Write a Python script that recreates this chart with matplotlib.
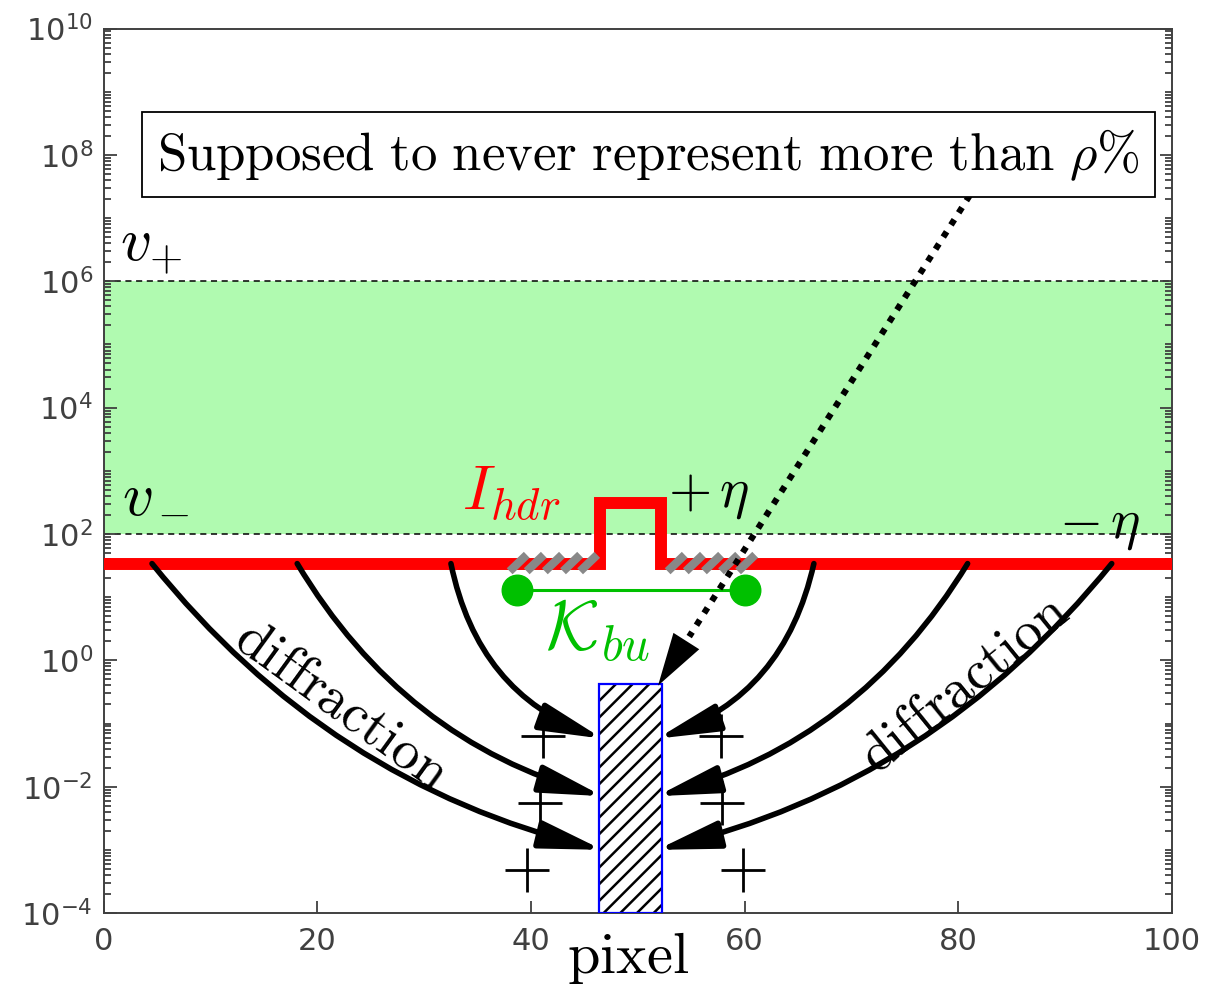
import numpy as np
import matplotlib
matplotlib.use("Agg")
import matplotlib.pyplot as plt
from matplotlib.patches import Rectangle, FancyArrowPatch
from matplotlib.ticker import LogLocator, NullFormatter

plt.rcParams['mathtext.fontset'] = 'cm'
plt.rcParams['hatch.linewidth'] = 1.8
plt.rcParams['hatch.color'] = 'black'

# ---- values ----
# thresholds
v_minus = 1e2
v_plus = 1e6

# I_hdr profile (red step)
ihdr_x = [0, 46.5, 46.5, 52.2, 52.2, 100]
ihdr_y = [34, 34, 310, 310, 34, 34]

# K_bu support (green segment)
kbu_x = [38.7, 60.0]
kbu_y = [13.2, 13.2]

# hatched eta-blocks on the red line (centres)
eta_left_x = [38.8, 40.4, 42.1, 43.8, 45.4]
eta_right_x = [53.6, 55.3, 57.0, 58.6, 60.2]

# target pixel bar
pixel_x0, pixel_x1 = 46.4, 52.3
pixel_top = 0.42

# diffraction arrows: start x on the red line, end y on the bar, curvature
arrow_start_left = [4.5, 18.1, 32.5]
arrow_start_right = [94.4, 80.9, 66.5]
arrow_end_y = [10 ** -3.0, 10 ** -2.15, 10 ** -1.24]
arrow_rad = [0.17, 0.2, 0.28]

# "+" signs beside the bar
plus_left_x = [41.1, 40.8, 39.6]
plus_right_x = [57.8, 57.9, 59.9]
plus_y = [10 ** -1.20, 10 ** -2.26, 10 ** -3.32]

# dotted pointer from the box to the bar
ptr_start = (81.1, 10 ** 7.36)
ptr_end = (51.9, 10 ** -0.40)

xticks = [0, 20, 40, 60, 80, 100]
yticks = [1e-4, 1e-2, 1e0, 1e2, 1e4, 1e6, 1e8, 1e10]

fig = plt.figure(figsize=(12.09, 9.86), dpi=100)
ax = fig.add_axes([0.086, 0.074, 0.883, 0.897])
ax.set_yscale('log')
ax.set_xlim(0, 100)
ax.set_ylim(1e-4, 1e10)

# green band between v- and v+
ax.axhspan(v_minus, v_plus, color='#b0fab0', lw=0, zorder=0)
for yv in (v_minus, v_plus):
    ax.axhline(yv, color='k', lw=1.1, ls=(0, (4, 3)), zorder=1)

# red I_hdr step
ax.plot(ihdr_x, ihdr_y, color='#ff0000', lw=8.6, solid_joinstyle='miter', zorder=3)

# gray slanted blocks
blk_dx = 0.8
blk_lo, blk_hi = 10 ** 1.41, 10 ** 1.67
for xc in eta_left_x + eta_right_x:
    ax.plot([xc - blk_dx, xc + blk_dx], [blk_lo, blk_hi], color='#888888',
            lw=6, solid_capstyle='butt', zorder=4)

# K_bu
ax.plot(kbu_x, kbu_y, color='#00c000', lw=2.2, zorder=4)
ax.plot(kbu_x, kbu_y, 'o', color='#00c000', ms=22, zorder=5)

# pixel bar: black hatch, blue outline
ax.add_patch(Rectangle((pixel_x0, 1e-4), pixel_x1 - pixel_x0, pixel_top - 1e-4,
                       facecolor='white', edgecolor='black', hatch='//', lw=0, zorder=4))
ax.add_patch(Rectangle((pixel_x0, 1e-4), pixel_x1 - pixel_x0, pixel_top - 1e-4,
                       facecolor='none', edgecolor='blue', lw=1.6, zorder=5))

# curved diffraction arrows
astyle = '-|>,head_length=1.9,head_width=0.42'
for xs, ye, rad in zip(arrow_start_left, arrow_end_y, arrow_rad):
    ax.add_patch(FancyArrowPatch((xs, ihdr_y[0]), (pixel_x0 + 0.3, ye),
                                 connectionstyle=f'arc3,rad={rad}', arrowstyle=astyle,
                                 mutation_scale=20, lw=4.0, color='k',
                                 shrinkA=0, shrinkB=0, zorder=6))
for xs, ye, rad in zip(arrow_start_right, arrow_end_y, arrow_rad):
    ax.add_patch(FancyArrowPatch((xs, ihdr_y[0]), (pixel_x1 - 0.5, ye),
                                 connectionstyle=f'arc3,rad={-rad}', arrowstyle=astyle,
                                 mutation_scale=20, lw=4.0, color='k',
                                 shrinkA=0, shrinkB=0, zorder=6))

# plus signs
ax.plot(plus_left_x, plus_y, '+', color='k', ms=32, mew=2.0, zorder=6)
ax.plot(plus_right_x, plus_y, '+', color='k', ms=32, mew=2.0, zorder=6)

# dotted pointer with solid head
t = 0.9
ly0, ly1 = np.log10(ptr_start[1]), np.log10(ptr_end[1])
base = (ptr_start[0] + t * (ptr_end[0] - ptr_start[0]), 10 ** (ly0 + t * (ly1 - ly0)))
ax.plot([ptr_start[0], base[0]], [ptr_start[1], base[1]], color='k', lw=4.5,
        dashes=(1.0, 1.3), zorder=7)
ax.annotate('', xy=ptr_end, xytext=ptr_start,
            arrowprops=dict(arrowstyle='-|>,head_length=1.9,head_width=0.55',
                            mutation_scale=20, lw=0, color='k',
                            shrinkA=0, shrinkB=0), zorder=7)

# text labels
ax.text(51.0, 1.0e8, r'$\mathrm{Supposed\ to\ never\ represent\ more\ than\ }\rho\%$',
        fontsize=38, ha='center', va='center', zorder=8,
        bbox=dict(boxstyle='square,pad=0.28', facecolor='white', edgecolor='k', lw=1.3))
ax.text(1.5, 2.2e6, r'$v_{+}$', fontsize=44, ha='left', va='baseline', zorder=8)
ax.text(1.7, 2.0e2, r'$v$', fontsize=44, ha='left', va='baseline', zorder=8)
ax.text(5.0, 2.16e2, r'$-$', fontsize=31, ha='left', va='center', zorder=8)
ax.text(33.5, 2.4e2, r'$I_{hdr}$', fontsize=46, color='#ff0000', ha='left', va='baseline', zorder=8)
ax.text(52.8, 2.7e2, r'$+\,\eta$', fontsize=40, ha='left', va='baseline', zorder=8)
ax.text(89.5, 89, r'$-\,\eta$', fontsize=40, ha='left', va='baseline', zorder=8)
ax.text(41.3, 1.46, r'$\mathcal{K}_{bu}$', fontsize=50, color='#00c000', ha='left', va='baseline', zorder=8)
ax.text(22.3, 10 ** -0.72, r'$\mathrm{diffraction}$', fontsize=40, rotation=-36,
        ha='center', va='center', rotation_mode='anchor', zorder=8)
ax.text(80.6, 10 ** -0.38, r'$\mathrm{diffraction}$', fontsize=40, rotation=39,
        ha='center', va='center', rotation_mode='anchor', zorder=8)
fig.text(628 / 1209, 1 - 958 / 986, r'$\mathrm{pixel}$', fontsize=42, ha='center', va='center')

# axes styling (MATLAB-like)
ax.set_xticks(xticks)
ax.set_yticks(yticks)
ax.yaxis.set_minor_locator(LogLocator(base=10, subs=np.arange(1, 10), numticks=100))
ax.yaxis.set_minor_formatter(NullFormatter())
ax.tick_params(axis='both', which='both', direction='in', colors='#404040',
               labelsize=22, width=1.3)
ax.tick_params(axis='y', which='both', left=True, right=True)
ax.tick_params(axis='x', which='both', top=False, pad=10)
ax.tick_params(axis='y', which='major', length=9, pad=8)
ax.tick_params(axis='y', which='minor', length=5)
ax.tick_params(axis='x', which='major', length=9)
for sp in ax.spines.values():
    sp.set_color('#404040')
    sp.set_linewidth(1.4)

fig.savefig('out.png', dpi=100)
